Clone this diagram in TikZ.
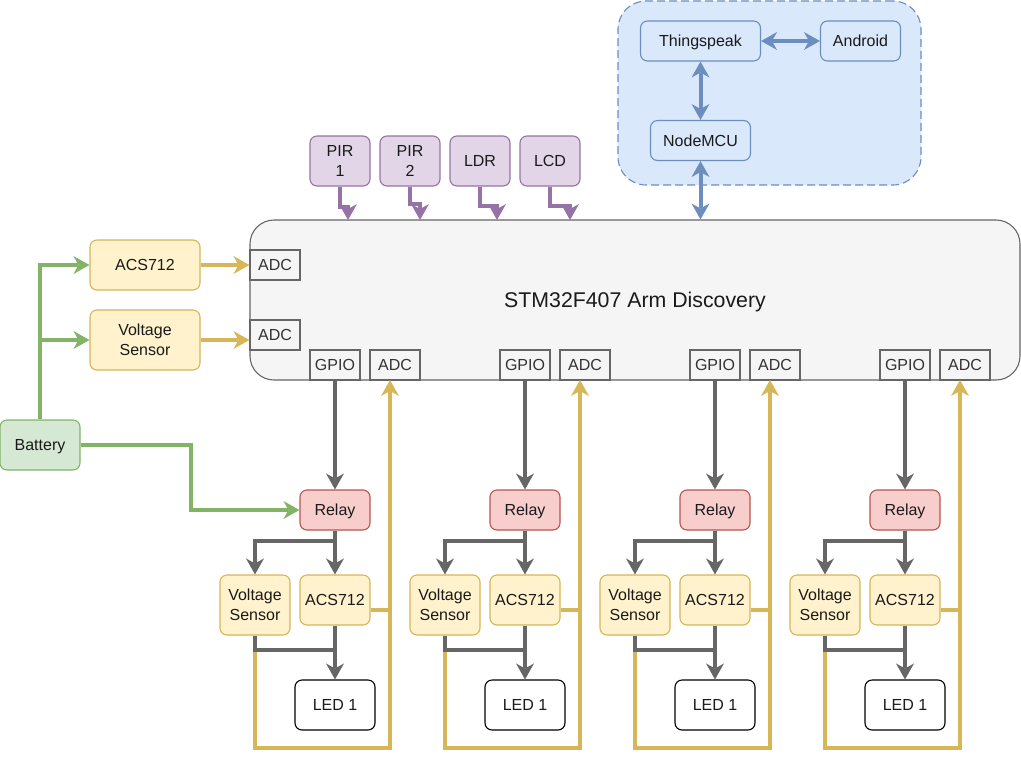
\documentclass[tikz,border=0pt]{standalone}
\usepackage{fontspec}
\setmainfont{Liberation Sans}
\usetikzlibrary{arrows.meta,calc}
\definecolor{txt}{HTML}{1A1A1A}
\definecolor{porttxt}{HTML}{333333}
\definecolor{grayfill}{HTML}{F5F5F5}
\definecolor{graystroke}{HTML}{666666}
\definecolor{yfill}{HTML}{FFF2CC}
\definecolor{ystroke}{HTML}{D6B656}
\definecolor{pfill}{HTML}{E1D5E7}
\definecolor{pstroke}{HTML}{9673A6}
\definecolor{bfill}{HTML}{DAE8FC}
\definecolor{bstroke}{HTML}{6C8EBF}
\definecolor{rfill}{HTML}{F8CECC}
\definecolor{rstroke}{HTML}{B85450}
\definecolor{gfill}{HTML}{D5E8D4}
\definecolor{gstroke}{HTML}{82B366}
\tikzset{
  ah/.tip={Stealth[length=16pt,width=18pt,inset=5pt,line width=0pt]},
  bx/.style={draw, line width=1.1pt, rounded corners=7pt, inner sep=0pt, align=center,
    font=\fontsize{16}{19.5}\selectfont, text=txt, text height=14.5pt, text depth=3.5pt},
  ml/.style={text height={}, text depth={}},
  ybox/.style={bx, fill=yfill, draw=ystroke},
  pbox/.style={bx, fill=pfill, draw=pstroke},
  bbox/.style={bx, fill=bfill, draw=bstroke},
  rbox/.style={bx, fill=rfill, draw=rstroke},
  gbox/.style={bx, fill=gfill, draw=gstroke},
  wbox/.style={bx, fill=white, draw=black},
  portbox/.style={draw=graystroke, fill=grayfill, line width=1.1pt, inner sep=0pt,
    minimum width=50pt, minimum height=30pt, text=porttxt, font=\fontsize{16}{19.5}\selectfont,
    text height=14.5pt, text depth=3.5pt},
  wire/.style={line width=4pt},
  garrow/.style={wire, draw=graystroke, -ah},
  yarrow/.style={wire, draw=ystroke, -ah},
  grarrow/.style={wire, draw=gstroke, -ah},
  parrow/.style={wire, draw=pstroke, -ah},
  barrow/.style={wire, draw=bstroke, ah-ah},
}
\begin{document}
\begin{tikzpicture}[x=1pt,y=-1pt]
\useasboundingbox (0,0) rectangle (1021,764);

% cloud group
\node[bbox, dashed, dash pattern=on 8pt off 4pt, rounded corners=28pt, minimum width=303pt, minimum height=184pt] (grp) at (769.5,93) {};
\node[bbox, minimum width=120pt, minimum height=40pt] (thing) at (700.5,41) {Thingspeak};
\node[bbox, minimum width=80pt, minimum height=40pt] (android) at (860.5,41) {Android};
\node[bbox, minimum width=100pt, minimum height=40pt] (nmcu) at (700.5,140.5) {NodeMCU};

% main board
\node[bx, draw=graystroke, fill=grayfill, rounded corners=24pt, minimum width=770pt, minimum height=160pt,
  font=\fontsize{21.3}{25}\selectfont, text height=19.3pt, text depth=4.5pt] (stm) at (635,300) {STM32F407 Arm Discovery};
\node[portbox] (adcL1) at (275,265) {ADC};
\node[portbox] (adcL2) at (275,335) {ADC};

% sensors on top
\node[pbox, ml, minimum width=60pt, minimum height=50pt] (pir1) at (340,161) {PIR\\1};
\node[pbox, ml, minimum width=60pt, minimum height=50pt] (pir2) at (410,161) {PIR\\2};
\node[pbox, minimum width=60pt, minimum height=50pt] (ldr) at (480,161) {LDR};
\node[pbox, minimum width=60pt, minimum height=50pt] (lcd) at (550,161) {LCD};
\coordinate (p1) at (348,220);
\coordinate (p2) at (420,220);
\coordinate (p3) at (497,220);
\coordinate (p4) at (570,220);
\draw[parrow] (pir1.south) -- ++(0,20) -| (p1);
\draw[parrow] (pir2.south) -- ++(0,17) -| (p2);
\draw[parrow] (ldr.south) -- ++(0,19) -| (p3);
\draw[parrow] (lcd.south) -- ++(0,19) -| (p4);

% cloud arrows
\draw[barrow] (thing.east) -- (android.west);
\draw[barrow] (thing.south) -- (nmcu.north);
\draw[barrow] (nmcu.south) -- (nmcu.south |- stm.north);

% left side
\node[ybox, minimum width=110pt, minimum height=50pt] (acsL) at (145,265) {ACS712};
\node[ybox, ml, minimum width=110pt, minimum height=60pt] (vsL) at (145,340) {Voltage\\Sensor};
\node[gbox, minimum width=80pt, minimum height=50pt] (bat) at (40,445) {Battery};
\draw[yarrow] (acsL.east) -- (adcL1.west);
\draw[yarrow] (vsL.east) -- (vsL.east -| adcL2.west);
\draw[grarrow] (bat.north) |- (acsL.west);
\draw[grarrow] (bat.north |- vsL.west) -- (vsL.west);

% bottom groups
\foreach \i/\dx in {1/0,2/190,3/380,4/570}{
  \node[portbox] (gpio\i) at (335+\dx,365) {GPIO};
  \node[portbox] (adc\i) at (395+\dx,365) {ADC};
  \node[rbox, minimum width=70pt, minimum height=40pt] (relay\i) at (335+\dx,510) {Relay};
  \node[ybox, ml, minimum width=70pt, minimum height=60pt] (vs\i) at (255+\dx,605) {Voltage\\Sensor};
  \node[ybox, minimum width=70pt, minimum height=50pt] (acs\i) at (335+\dx,600) {ACS712};
  \node[wbox, minimum width=80pt, minimum height=50pt] (led\i) at (335+\dx,705) {LED 1};
  \coordinate (ya\i) at (390+\dx,380);
  \draw[wire, draw=ystroke] (acs\i.east |- 0,610) -- (ya\i |- 0,610);
  \draw[yarrow] (vs\i.south) -- (vs\i.south |- 0,748) -| (ya\i);
  \draw[garrow] (gpio\i.south) -- (relay\i.north);
  \draw[garrow] (relay\i.south) -- (acs\i.north);
  \draw[garrow] (relay\i.south) ++(0,10) -| (vs\i.north);
  \draw[wire, draw=graystroke] (vs\i.south) |- (acs\i.south |- 0,650);
  \draw[garrow] (acs\i.south) -- (led\i.north);
}
\draw[grarrow] (bat.east) -- ++(110,0) |- (relay1.west);
\end{tikzpicture}
\end{document}
